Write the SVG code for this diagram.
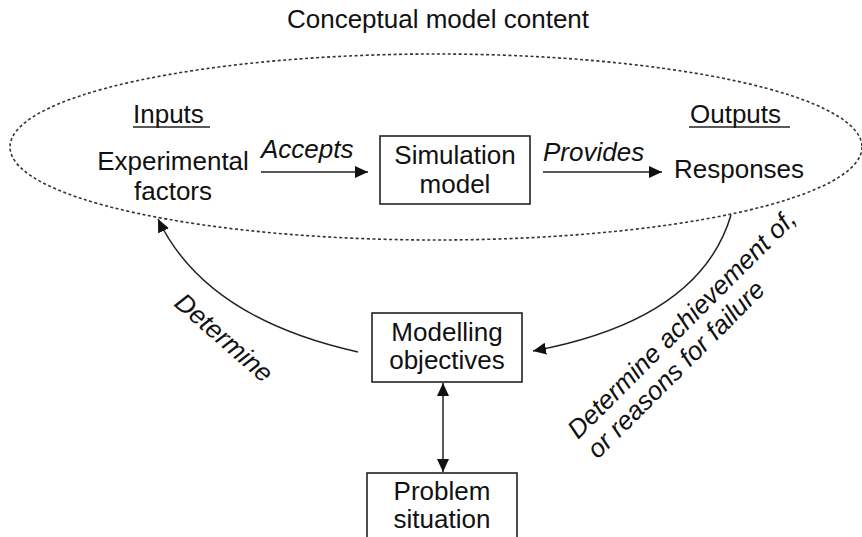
<svg xmlns="http://www.w3.org/2000/svg" width="862" height="537" viewBox="0 0 862 537">
<style>
text{font-family:"Liberation Sans",Arial,sans-serif;font-size:26px;fill:#111}
.it{font-style:italic}
.box{fill:#fff;stroke:#222;stroke-width:1.6}
.ln{fill:none;stroke:#222;stroke-width:1.5}
</style>
<defs>
<marker id="ah" markerUnits="userSpaceOnUse" markerWidth="14" markerHeight="12" refX="13" refY="6" orient="auto-start-reverse">
<path d="M0,0 L13,6 L0,12 z" fill="#111"/>
</marker>
</defs>
<rect width="862" height="537" fill="#fff"/>
<text x="438" y="28" text-anchor="middle">Conceptual model content</text>
<ellipse cx="436" cy="147" rx="426" ry="93" fill="none" stroke="#333" stroke-width="1.6" stroke-dasharray="3,2.5"/>
<g id="connectors">
<line class="ln" x1="261" y1="172" x2="368" y2="172" marker-end="url(#ah)"/>
<line class="ln" x1="543" y1="172" x2="662" y2="172" marker-end="url(#ah)"/>
<path class="ln" d="M358,352 Q205,318 158,219" marker-end="url(#ah)"/>
<path class="ln" d="M731,215 Q700,320 533,351" marker-end="url(#ah)"/>
<line class="ln" x1="443" y1="383" x2="443" y2="472" marker-start="url(#ah)" marker-end="url(#ah)"/>
<text class="it" x="261" y="158">Accepts</text>
<text class="it" x="543" y="161">Provides</text>
<text class="it" x="173" y="305" transform="rotate(41 173 305)">Determine</text>
<text class="it" x="578" y="440" transform="rotate(-45 578 440)">Determine achievement of,<tspan x="578" dy="28">or reasons for failure</tspan></text>
</g>
<g id="inputs">
<text x="133" y="123">Inputs</text>
<line x1="133" y1="127" x2="210" y2="127" stroke="#222" stroke-width="1.5"/>
</g>
<g id="outputs">
<text x="690" y="123">Outputs</text>
<line x1="689" y1="127" x2="790" y2="127" stroke="#222" stroke-width="1.5"/>
</g>
<g id="experimental-factors">
<text x="173" y="170" text-anchor="middle">Experimental</text>
<text x="173" y="200" text-anchor="middle">factors</text>
</g>
<g id="simulation-model">
<rect class="box" x="380" y="136" width="150" height="68"/>
<text x="455" y="164" text-anchor="middle">Simulation</text>
<text x="455" y="193" text-anchor="middle">model</text>
</g>
<g id="responses">
<text x="674" y="178">Responses</text>
</g>
<g id="modelling-objectives">
<rect class="box" x="372" y="313" width="150" height="69"/>
<text x="447" y="341" text-anchor="middle">Modelling</text>
<text x="447" y="369" text-anchor="middle">objectives</text>
</g>
<g id="problem-situation">
<rect class="box" x="367" y="473" width="150" height="80"/>
<text x="442" y="500" text-anchor="middle">Problem</text>
<text x="442" y="528" text-anchor="middle">situation</text>
</g>
</svg>
